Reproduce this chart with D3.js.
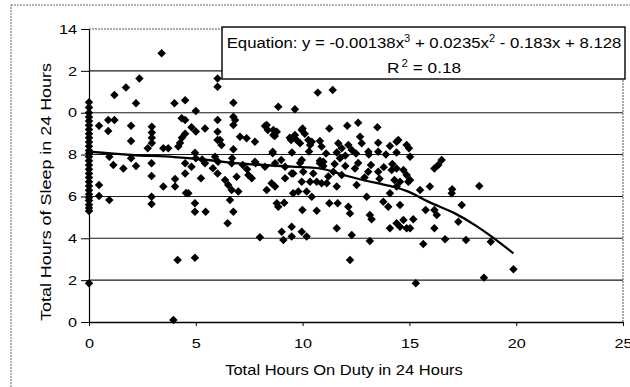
<!DOCTYPE html>
<html>
<head>
<meta charset="utf-8">
<script src="https://cdn.jsdelivr.net/npm/d3@7"></script>
<style>
  html, body { margin: 0; padding: 0; background: #fff; }
  svg { display: block; font-family: "Liberation Sans", Arial, sans-serif; }
</style>
</head>
<body>
<div id="chart"></div>
<script>
// tick labels as they show in the picture (the leading "1" of 12 and 10 is cut off)
const yTicks = [0, 2, 4, 6, 8, 10, 12, 14];
const yTickLabels = ["0", "2", "4", "6", "8", "0", "2", "14"];
const xTicks = [0, 5, 10, 15, 20, 25];

// [hours on duty, hours of sleep]
const dutyZero = [
    [0, 10.5], [0, 10.25], [0, 10.0], [0, 9.8], [0, 9.6], [0, 9.4], [0, 9.2], [0, 9.0],
    [0, 8.8], [0, 8.6], [0, 8.4], [0, 8.2], [0, 8.05], [0, 7.9], [0, 7.7], [0, 7.5],
    [0, 7.3], [0, 7.1], [0, 6.9], [0, 6.7], [0, 6.5], [0, 6.3], [0, 6.1], [0, 5.95],
    [0, 5.8], [0, 5.6], [0, 5.45], [0, 5.3], [0, 1.85]
];

const dutyLow = [
    [0.47, 9.38], [0.9, 9.65], [1.19, 9.65], [0.9, 9.13], [1.97, 9.38], [1.97, 8.65],
    [2.94, 9.33], [2.94, 9.05], [2.94, 8.8], [2.94, 8.55], [2.75, 8.3], [3.48, 8.3],
    [3.71, 8.3], [4.26, 8.55], [4.18, 8.38], [4.35, 8.8], [4.5, 9.65], [0.95, 7.9], [1.97, 7.82],
    [1.14, 7.5], [1.61, 7.34], [2.2, 7.45], [2.93, 7.58], [2.93, 6.98], [3.48, 6.47],
    [4.03, 6.47], [4.03, 6.83], [4.5, 7.1], [0.47, 6.55], [0.47, 6.02], [0.95, 5.83],
    [2.93, 5.99], [2.93, 5.64], [4.15, 2.96], [3.95, 0.1], [4.54, 6.16], [4.34, 9.73],
    [3.4, 12.84], [2.36, 11.64], [1.73, 11.2], [1.19, 10.85], [2.2, 10.45], [4.0, 10.45],
    [4.5, 10.6], [4.5, 9.0]
];

const dutyMid = [
    [6.02, 11.64], [6.02, 11.24], [6.76, 10.48], [8.86, 10.29], [9.64, 10.16], [5.0, 10.08],
    [6.02, 9.65], [6.84, 9.65], [6.76, 9.41], [6.76, 9.81], [4.8, 9.3], [5.0, 9.1], [6.02, 9.09],
    [5.43, 9.25], [6.13, 8.7], [8.24, 9.36], [8.32, 9.41], [8.37, 9.17], [8.63, 9.17],
    [8.79, 9.09], [8.7, 8.89], [8.63, 8.93], [7.07, 8.85], [7.38, 8.78], [7.77, 8.61],
    [6.02, 8.7], [6.2, 8.46], [6.76, 8.25], [8.6, 8.14], [9.4, 8.8], [4.96, 8.09],
    [5.0, 7.82], [5.3, 7.77], [5.9, 7.9], [6.7, 7.82], [7.8, 7.58], [8.6, 8.06], [9.0, 7.74],
    [4.5, 7.58], [4.8, 7.42], [5.43, 7.58], [6.04, 7.66], [6.68, 7.58], [7.77, 7.66],
    [8.24, 7.42], [8.71, 7.58], [9.18, 7.42], [7.2, 7.5], [7.4, 7.3], [5.8, 7.35],
    [5.24, 6.87], [6.02, 7.1], [6.37, 6.78], [6.52, 6.55], [6.68, 6.31], [6.91, 6.94],
    [7.46, 7.02], [7.62, 6.87], [6.99, 6.23], [8.32, 6.31], [8.55, 6.63], [8.71, 6.47],
    [9.18, 6.87], [9.49, 7.1], [4.65, 6.15], [6.6, 5.83], [4.96, 5.67], [4.96, 5.27],
    [5.46, 5.27], [6.76, 5.27], [6.49, 4.72], [8.79, 5.67], [8.86, 5.51], [9.14, 5.7],
    [8.0, 4.05], [9.02, 4.31], [9.1, 3.92], [9.49, 4.55], [9.49, 4.08], [4.96, 3.07]
];

const dutyHigh = [
    [10.71, 10.96], [11.41, 11.08], [10.0, 9.25], [9.96, 9.17], [10.1, 9.0], [11.25, 9.25],
    [12.09, 9.38], [12.6, 9.52], [13.5, 9.3], [9.64, 8.93], [9.72, 8.7], [9.88, 8.54],
    [10.27, 8.7], [10.35, 8.46], [10.43, 8.61], [10.81, 8.65], [10.89, 8.38], [11.67, 8.54],
    [11.83, 8.3], [12.14, 8.46], [12.3, 8.22], [12.69, 8.85], [12.77, 8.54], [13.54, 8.57],
    [13.54, 8.14], [14.09, 8.41], [14.4, 8.61], [13.08, 8.14], [11.75, 7.82], [9.96, 7.74],
    [10.81, 7.71], [10.97, 7.66], [9.46, 8.7], [9.5, 8.1], [10.3, 8.15], [11.1, 8.05],
    [11.6, 8.1], [12.0, 7.95], [12.5, 8.05], [13.1, 8.0], [13.9, 8.0], [14.4, 8.1],
    [9.88, 7.6], [10.81, 7.58], [10.97, 7.45], [9.56, 7.1], [10.03, 7.18], [10.5, 7.1],
    [11.44, 7.18], [11.83, 7.02], [12.45, 7.34], [13.07, 7.18], [13.54, 7.18], [14.17, 7.26],
    [11.5, 7.55], [12.0, 7.45], [12.6, 7.6], [13.2, 7.5], [13.8, 7.4], [14.2, 7.55],
    [12.9, 6.9], [13.6, 6.85], [11.2, 6.95],
    [9.96, 6.7], [10.35, 6.7], [10.66, 6.7], [10.89, 6.63], [11.13, 6.63], [11.6, 6.47],
    [12.53, 6.55], [9.56, 6.15], [9.8, 6.23], [10.19, 6.23], [10.43, 5.99], [13.0, 5.99],
    [14.09, 6.15], [14.4, 6.47], [11.25, 5.67], [11.64, 5.67], [12.14, 5.51], [12.22, 5.19],
    [9.99, 5.35], [10.66, 5.32], [13.15, 5.11], [13.23, 4.91], [13.78, 5.75], [14.01, 5.51],
    [9.96, 4.31], [10.19, 4.08], [11.6, 4.48], [12.3, 4.16], [13.15, 3.87],
    [12.22, 2.96], [14.09, 4.48], [14.4, 4.72]
];

const dutyLong = [
    [14.48, 8.7], [14.87, 8.46], [14.98, 8.3], [15.03, 7.9], [16.51, 7.74], [16.35, 7.5],
    [16.17, 7.34], [14.4, 7.34], [14.72, 7.26], [14.87, 7.02], [15.03, 6.78], [14.3, 6.78],
    [14.56, 6.7], [14.95, 6.7], [15.5, 6.31], [15.96, 6.47], [17.0, 6.34], [18.27, 6.5],
    [16.98, 6.15], [14.56, 5.59], [15.76, 5.35], [16.17, 5.35], [16.28, 5.11], [17.45, 5.59],
    [17.29, 4.79], [14.56, 4.55], [14.72, 4.87], [15.18, 4.91], [14.87, 4.48], [15.03, 4.48],
    [16.17, 4.48], [15.65, 3.73], [16.67, 3.95], [17.65, 3.92], [18.81, 3.84], [19.87, 2.52],
    [15.3, 1.85], [18.49, 2.12]
];

// polynomial trend line
const trendX = [0, 2, 4, 5, 7, 9.5, 10.8, 12, 13.5, 14.3, 14.95, 15.88, 17.13, 18.07, 18.85, 19.87];
const trendY = [8.14, 7.98, 7.88, 7.8, 7.58, 7.42, 7.34, 7.0, 6.63, 6.45, 6.23, 5.75, 5.19, 4.63, 4.08, 3.28];

const width = 630;
const height = 387;
const margin = { top: 29, right: 7, bottom: 65, left: 89 };
const plot = {
    left: margin.left,
    right: width - margin.right,
    top: margin.top,
    bottom: height - margin.bottom
};

const svg = d3.select("#chart")
    .append("svg")
    .attr("width", width)
    .attr("height", height);

// outer chart border
svg.append("rect")
    .attr("x", 11).attr("y", 5)
    .attr("width", 640).attr("height", 400)
    .attr("fill", "none")
    .attr("stroke", "#666")
    .attr("stroke-dasharray", "2,1");

const x = d3.scaleLinear().domain([0, 25]).range([plot.left, plot.right]);
const y = d3.scaleLinear().domain([0, 14]).range([plot.bottom, plot.top]);

// gridlines
svg.append("g")
    .selectAll("line")
    .data(yTicks.filter(d => d > 0 && d < 14))
    .join("line")
    .attr("x1", plot.left).attr("x2", plot.right)
    .attr("y1", d => y(d)).attr("y2", d => y(d))
    .attr("stroke", "#1a1a1a")
    .attr("stroke-width", 1.1);

// dotted top and right edge of the plot area
svg.append("path")
    .attr("d", `M${plot.left},${y(14)}H${plot.right}V${y(0)}`)
    .attr("fill", "none")
    .attr("stroke", "#555")
    .attr("stroke-dasharray", "2,1");

const scaleX = 1.25;

// y axis
const yAxis = svg.append("g")
    .attr("transform", `translate(${plot.left},0)`)
    .call(d3.axisLeft(y)
        .tickValues(yTicks)
        .tickFormat((d, i) => yTickLabels[i])
        .tickSizeInner(8)
        .tickSizeOuter(0)
        .tickPadding(4));
yAxis.select(".domain").attr("stroke", "#000").attr("stroke-width", 1.2);
yAxis.selectAll(".tick line").attr("stroke", "#000");
yAxis.selectAll("text")
    .attr("font-size", 13)
    .attr("font-family", "'Liberation Sans', Arial, sans-serif")
    .attr("fill", "#000")
    .attr("x", -12 / scaleX)
    .attr("transform", `scale(${scaleX},1)`);

// x axis
const xAxis = svg.append("g")
    .attr("transform", `translate(0,${plot.bottom})`)
    .call(d3.axisBottom(x)
        .tickValues(xTicks)
        .tickSizeInner(4)
        .tickSizeOuter(0)
        .tickPadding(13));
xAxis.select(".domain").attr("stroke", "#000").attr("stroke-width", 1.4);
xAxis.selectAll(".tick line").attr("stroke", "#000");
xAxis.selectAll("text")
    .attr("font-size", 13)
    .attr("font-family", "'Liberation Sans', Arial, sans-serif")
    .attr("fill", "#000")
    .attr("x", 0)
    .attr("transform", `scale(${scaleX},1)`);

// points
const points = [...dutyZero, ...dutyLow, ...dutyMid, ...dutyHigh, ...dutyLong];
const diamond = d3.symbol().type(d3.symbolSquare).size(36);
svg.append("g")
    .selectAll("path")
    .data(points)
    .join("path")
    .attr("d", diamond)
    .attr("transform", d => `translate(${x(d[0])},${y(d[1])}) rotate(45)`)
    .attr("fill", "#000");

// trend line
const trend = trendX.map((v, i) => [v, trendY[i]]);
svg.append("path")
    .datum(trend)
    .attr("fill", "none")
    .attr("stroke", "#000")
    .attr("stroke-width", 2.3)
    .attr("d", d3.line()
        .x(d => x(d[0]))
        .y(d => y(d[1]))
        .curve(d3.curveMonotoneX));

// stretch a centred text to a given width
function fitText(sel, cx, cy, targetWidth, rotate) {
    const w = sel.node().getComputedTextLength();
    const s = targetWidth / w;
    sel.attr("text-anchor", "middle")
        .attr("transform", `translate(${cx},${cy})${rotate ? " rotate(-90)" : ""} scale(${s},1)`);
}

// axis titles
const xTitle = svg.append("text")
    .attr("font-size", 14)
    .attr("fill", "#000")
    .text("Total Hours On Duty in 24 Hours");
fitText(xTitle, 344, 375, 238, false);

const yTitle = svg.append("text")
    .attr("font-size", 14.5)
    .attr("fill", "#000")
    .text("Total Hours of Sleep in 24 Hours");
fitText(yTitle, 51, 192, 258, true);

// equation box
svg.append("rect")
    .attr("x", 222).attr("y", 27)
    .attr("width", 403).attr("height", 52)
    .attr("fill", "#fff")
    .attr("stroke", "#000")
    .attr("stroke-width", 1.4);

const eq = svg.append("text")
    .attr("font-size", 15)
    .attr("fill", "#000");
eq.append("tspan").text("Equation: y = -0.00138x");
eq.append("tspan").attr("font-size", 10).attr("dy", -6).text("3");
eq.append("tspan").attr("dy", 6).text(" + 0.0235x");
eq.append("tspan").attr("font-size", 10).attr("dy", -6).text("2");
eq.append("tspan").attr("dy", 6).text(" - 0.183x + 8.128");
fitText(eq, 424, 48, 395, false);

const r2 = svg.append("text")
    .attr("font-size", 15)
    .attr("fill", "#000");
r2.append("tspan").text("R");
r2.append("tspan").attr("font-size", 10).attr("dx", 2).attr("dy", -6).text("2");
r2.append("tspan").attr("dy", 6).text(" = 0.18");
fitText(r2, 424, 73, 72, false);
</script>
</body>
</html>
